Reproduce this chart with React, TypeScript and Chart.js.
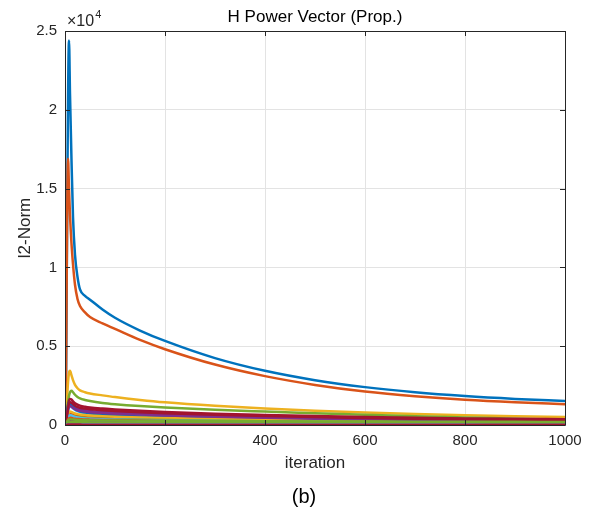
import React, { useEffect, useRef } from "react";
import { Chart, registerables } from "chart.js";

Chart.register(...registerables);

const titleText = "H Power Vector (Prop.)";
const xLabel = "iteration";
const yLabel = "l2-Norm";
const captionText = "(b)";
const exponentBase = "×10";
const exponentPower = "4";
const yScaleFactor = 10000;

const xTicks = [0, 200, 400, 600, 800, 1000];
const yTicks = [0, 0.5, 1, 1.5, 2, 2.5];

const iterations = [1, 2, 4, 6, 8, 10, 13, 16, 20, 25, 30, 40, 50, 75, 100, 150, 200, 300, 400, 500, 600, 700, 800, 900, 1000];

const colorOrder = ["#0072BD", "#D95319", "#EDB120", "#7E2F8E", "#77AC30", "#4DBEEE", "#A2142F"];

const s1 = [100, 2500, 12000, 20500, 24400, 21000, 16800, 13200, 10800, 9400, 8600, 8200, 7950, 7330, 6805, 5995, 5335, 4246, 3440, 2844, 2403, 2076, 1834, 1655, 1520];
const s2 = [100, 3000, 12000, 16900, 15000, 13300, 11500, 10200, 8900, 8000, 7550, 7150, 6850, 6450, 6100, 5400, 4810, 3836, 3100, 2544, 2124, 1824, 1599, 1439, 1319];
const s3 = [50, 300, 1500, 2700, 3300, 3440, 3150, 2850, 2550, 2330, 2200, 2080, 2000, 1880, 1770, 1590, 1440, 1220, 1050, 910, 795, 700, 622, 562, 515];
const s4 = [10, 100, 500, 1000, 1250, 1330, 1300, 1220, 1120, 1040, 990, 930, 890, 830, 790, 720, 660, 560, 480, 420, 370, 330, 290, 260, 240];
const s5 = [20, 150, 700, 1400, 1850, 2080, 2170, 2080, 1920, 1780, 1690, 1590, 1520, 1400, 1320, 1200, 1110, 960, 850, 750, 650, 560, 480, 400, 330];
const s6 = [10, 100, 450, 850, 1100, 1200, 1150, 1060, 960, 880, 830, 770, 730, 670, 630, 570, 520, 440, 380, 330, 290, 260, 230, 210, 190];
const s7 = [20, 150, 700, 1250, 1550, 1650, 1620, 1500, 1380, 1290, 1230, 1160, 1110, 1040, 990, 900, 830, 720, 640, 570, 510, 460, 420, 390, 370];
const s8 = [10, 150, 700, 1200, 1400, 1420, 1300, 1150, 1020, 920, 860, 790, 740, 660, 610, 540, 490, 410, 350, 300, 260, 230, 200, 180, 160];
const s9 = [10, 80, 300, 550, 700, 750, 720, 670, 620, 580, 560, 530, 510, 480, 460, 420, 390, 340, 300, 260, 230, 200, 180, 160, 140];
const s10 = [10, 80, 350, 650, 800, 850, 830, 780, 730, 690, 660, 630, 600, 560, 530, 480, 440, 380, 330, 290, 260, 230, 210, 190, 170];
const s11 = [10, 120, 550, 950, 1150, 1200, 1160, 1080, 1000, 940, 900, 850, 810, 760, 720, 660, 610, 530, 460, 400, 360, 320, 290, 260, 240];
const s12 = [5, 60, 250, 450, 560, 600, 590, 560, 520, 490, 470, 440, 420, 390, 370, 340, 310, 270, 240, 210, 190, 170, 160, 150, 140];
const s13 = [5, 60, 250, 450, 580, 620, 600, 560, 510, 470, 450, 420, 400, 370, 350, 310, 290, 250, 220, 190, 170, 150, 140, 130, 120];
const s14 = [15, 120, 600, 1100, 1380, 1450, 1420, 1320, 1220, 1150, 1100, 1040, 1000, 940, 890, 810, 750, 650, 570, 500, 450, 400, 360, 330, 300];
const s15 = [5, 40, 150, 280, 350, 380, 370, 350, 330, 310, 300, 280, 270, 250, 240, 220, 200, 180, 160, 140, 120, 110, 100, 90, 80];
const s16 = [5, 40, 180, 330, 420, 450, 440, 420, 400, 380, 370, 350, 340, 320, 310, 280, 260, 230, 200, 180, 160, 145, 130, 120, 110];
const s17 = [5, 30, 120, 220, 280, 300, 300, 290, 280, 270, 260, 250, 240, 230, 220, 200, 190, 170, 150, 130, 120, 110, 100, 90, 85];
const s18 = [5, 30, 120, 200, 250, 270, 265, 255, 245, 235, 228, 220, 212, 200, 192, 178, 168, 150, 135, 122, 112, 104, 97, 91, 86];
const s19 = [5, 40, 160, 280, 340, 360, 355, 345, 335, 325, 318, 310, 302, 290, 282, 270, 262, 248, 236, 226, 217, 210, 204, 199, 195];
const s20 = [5, 20, 80, 140, 170, 180, 178, 172, 166, 160, 155, 150, 145, 138, 132, 122, 115, 103, 93, 85, 78, 72, 67, 63, 60];
const s21 = [5, 20, 70, 120, 150, 160, 158, 154, 150, 146, 142, 136, 132, 125, 120, 112, 106, 96, 88, 81, 75, 70, 66, 62, 59];
const s22 = [5, 30, 80, 110, 120, 120, 118, 116, 114, 112, 110, 108, 106, 103, 100, 96, 92, 86, 82, 78, 75, 72, 70, 68, 66];
const s23 = [5, 25, 60, 85, 95, 98, 97, 96, 95, 94, 93, 92, 91, 89, 88, 85, 83, 79, 76, 73, 71, 69, 67, 65, 64];
const s24 = [3, 15, 35, 45, 50, 50, 49, 48, 47, 46, 45, 44, 43, 42, 41, 39, 38, 36, 34, 33, 32, 31, 30, 29, 28];
const s25 = [4, 20, 50, 65, 70, 70, 69, 68, 67, 66, 65, 64, 63, 61, 60, 58, 56, 53, 51, 49, 47, 46, 45, 44, 43];
const s26 = [8, 50, 120, 160, 175, 180, 178, 176, 174, 172, 170, 168, 166, 163, 160, 156, 152, 146, 141, 137, 134, 131, 129, 127, 125];
const s27 = [3, 12, 28, 36, 40, 40, 39, 38, 37, 36, 36, 35, 34, 33, 32, 31, 30, 28, 27, 26, 25, 24, 24, 23, 23];
const s28 = [2, 8, 18, 24, 26, 26, 26, 25, 25, 24, 24, 23, 23, 22, 22, 21, 20, 19, 18, 18, 17, 17, 16, 16, 16];

const seriesList = [s1, s2, s3, s4, s5, s6, s7, s8, s9, s10, s11, s12, s13, s14, s15, s16, s17, s18, s19, s20, s21, s22, s23, s24, s25, s26, s27, s28];

const FONT = "'Liberation Sans', Arial, Helvetica, sans-serif";
const AXIS_COLOR = "#262626";

const matlabAxesPlugin = {
  id: "matlabAxes",
  afterDatasetsDraw(chart: any) {
    const { ctx, chartArea } = chart;
    const { left, right, top, bottom } = chartArea;
    const xs = chart.scales.x;
    const ys = chart.scales.y;
    ctx.save();
    ctx.strokeStyle = AXIS_COLOR;
    ctx.lineWidth = 1;
    ctx.beginPath();
    ctx.rect(Math.round(left) + 0.5, Math.round(top) + 0.5, Math.round(right - left), Math.round(bottom - top));
    ctx.stroke();
    const tl = 5;
    ctx.beginPath();
    xTicks.forEach((t) => {
      const px = Math.round(xs.getPixelForValue(t)) + 0.5;
      ctx.moveTo(px, bottom);
      ctx.lineTo(px, bottom - tl);
      ctx.moveTo(px, top);
      ctx.lineTo(px, top + tl);
    });
    yTicks.forEach((t) => {
      const py = Math.round(ys.getPixelForValue(t * yScaleFactor)) + 0.5;
      ctx.moveTo(left, py);
      ctx.lineTo(left + tl, py);
      ctx.moveTo(right, py);
      ctx.lineTo(right - tl, py);
    });
    ctx.stroke();

    // exponent label
    ctx.fillStyle = AXIS_COLOR;
    ctx.textBaseline = "alphabetic";
    ctx.textAlign = "left";
    ctx.font = `16px ${FONT}`;
    const baseX = left + 2;
    const baseY = top - 5;
    ctx.fillText(exponentBase, baseX, baseY);
    const w = ctx.measureText(exponentBase).width;
    ctx.font = `11px ${FONT}`;
    ctx.fillText(exponentPower, baseX + w + 1, baseY - 8);

    // title
    ctx.fillStyle = "#000000";
    ctx.textAlign = "center";
    ctx.textBaseline = "middle";
    ctx.font = `17px ${FONT}`;
    ctx.fillText(titleText, (left + right) / 2, top - 14);

    // caption
    ctx.font = `20px ${FONT}`;
    ctx.fillText(captionText, chart.width / 2 + 6, 497);
    ctx.restore();
  },
};

export default function App() {
  const canvasRef = useRef<HTMLCanvasElement>(null);

  useEffect(() => {
    const canvas = canvasRef.current;
    if (!canvas) return;
    const n = seriesList.length;
    const datasets = seriesList.map((values, i) => ({
      label: `s${i + 1}`,
      data: iterations.map((x, k) => ({ x, y: values[k] })),
      borderColor: colorOrder[i % colorOrder.length],
      backgroundColor: colorOrder[i % colorOrder.length],
      borderWidth: 2.5,
      pointRadius: 0,
      fill: false,
      cubicInterpolationMode: "monotone" as const,
      order: n - i,
    }));

    const chart = new Chart(canvas, {
      type: "line",
      data: { datasets },
      plugins: [matlabAxesPlugin],
      options: {
        animation: false,
        responsive: false,
        maintainAspectRatio: false,
        layout: { padding: { left: 0, right: 31, top: 31, bottom: 31.4 } },
        plugins: {
          legend: { display: false },
          tooltip: { enabled: false },
          title: { display: false },
          subtitle: { display: false },
        },
        scales: {
          x: {
            type: "linear",
            min: 0,
            max: 1000,
            afterBuildTicks: (scale: any) => {
              scale.ticks = xTicks.map((v) => ({ value: v }));
            },
            afterFit: (scale: any) => {
              scale.height = 57.6;
            },
            ticks: {
              autoSkip: false,
              maxRotation: 0,
              padding: 7,
              color: AXIS_COLOR,
              font: { family: FONT, size: 15 },
              callback: (v: any) => String(v),
            },
            grid: { color: "#e3e3e3", lineWidth: 1, drawTicks: false },
            border: { display: false },
            title: {
              display: true,
              text: xLabel,
              color: AXIS_COLOR,
              font: { family: FONT, size: 17 },
              padding: { top: 0, bottom: 9.4 },
            },
          },
          y: {
            type: "linear",
            min: 0,
            max: 25000,
            afterBuildTicks: (scale: any) => {
              scale.ticks = yTicks.map((v) => ({ value: v * yScaleFactor }));
            },
            afterFit: (scale: any) => {
              scale.width = 65;
            },
            ticks: {
              autoSkip: false,
              padding: 8,
              color: AXIS_COLOR,
              font: { family: FONT, size: 15 },
              callback: (v: any) => String(Number(v) / yScaleFactor),
            },
            grid: { color: "#e3e3e3", lineWidth: 1, drawTicks: false },
            border: { display: false },
            title: {
              display: true,
              text: yLabel,
              color: AXIS_COLOR,
              font: { family: FONT, size: 17 },
              padding: { top: 14.8, bottom: 0 },
            },
          },
        },
      },
    });
    return () => chart.destroy();
  }, []);

  return (
    <div style={{ position: "fixed", left: 0, top: 0, width: 596, height: 514, background: "#ffffff" }}>
      <canvas ref={canvasRef} width={596} height={514} style={{ width: 596, height: 514, display: "block" }} />
    </div>
  );
}
